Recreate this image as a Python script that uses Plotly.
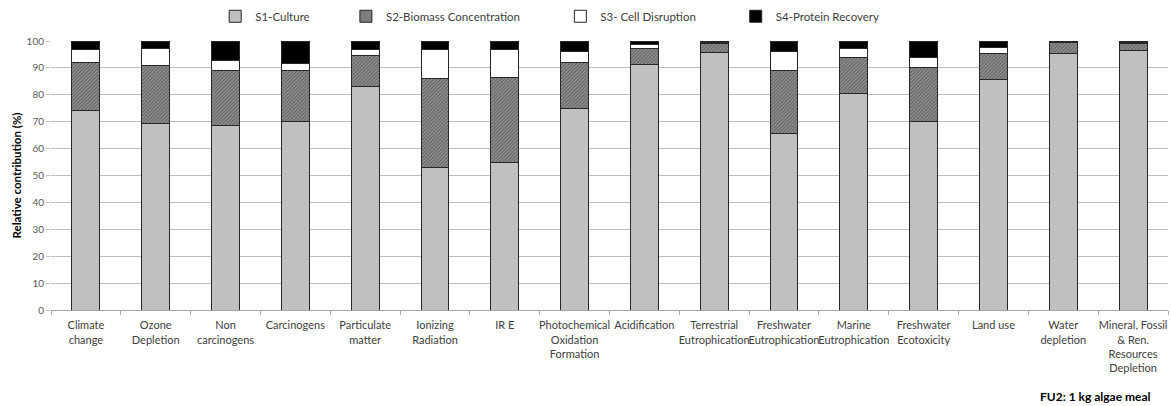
import plotly.graph_objects as go

categories = [
    "Climate<br>change", "Ozone<br>Depletion", "Non<br>carcinogens", "Carcinogens",
    "Particulate<br>matter", "Ionizing<br>Radiation", "IR E",
    "Photochemical<br>Oxidation<br>Formation", "Acidification",
    "Terrestrial<br>Eutrophication", "Freshwater<br>Eutrophication",
    "Marine<br>Eutrophication", "Freshwater<br>Ecotoxicity", "Land use",
    "Water<br>depletion", "Mineral, Fossil<br>& Ren.<br>Resources<br>Depletion",
]

s1_culture = [74.0, 69.5, 68.5, 70.0, 83.0, 53.0, 55.0, 75.0, 91.2, 95.7, 65.7, 80.5, 70.0, 85.7, 95.5, 96.3]
s2_biomass = [18.0, 21.5, 20.5, 19.0, 11.5, 33.0, 31.5, 17.0, 5.9, 3.5, 23.5, 13.2, 20.0, 9.7, 3.8, 2.8]
s3_disruption = [5.0, 6.2, 3.8, 2.5, 2.5, 11.0, 10.5, 4.0, 1.7, 0.3, 6.8, 3.6, 3.7, 2.2, 0.6, 0.3]
s4_recovery = [3.0, 2.8, 7.2, 8.5, 3.0, 3.0, 3.0, 4.0, 1.2, 0.5, 4.0, 2.7, 6.3, 2.4, 0.1, 0.6]

series_names = ["S1-Culture", "S2-Biomass Concentration", "S3- Cell Disruption", "S4-Protein Recovery"]
y_ticks = [0, 10, 20, 30, 40, 50, 60, 70, 80, 90, 100]

FONT = "Lato, Liberation Sans, Arial, sans-serif"
outline = dict(color="#262626", width=1)

fig = go.Figure()
fig.add_trace(go.Bar(x=categories, y=s1_culture, name=series_names[0], showlegend=True,
                     marker=dict(color="#c0c0c0", line=outline), legend="legend"))
fig.add_trace(go.Bar(x=categories, y=s2_biomass, name=series_names[1], showlegend=True,
                     marker=dict(color="#7a7a7a", line=outline,
                                 pattern=dict(shape="/", size=2.5, solidity=0.5,
                                              fgcolor="#262626", bgcolor="#9a9a9a")),
                     legend="legend2"))
fig.add_trace(go.Bar(x=categories, y=s3_disruption, name=series_names[2], showlegend=True,
                     marker=dict(color="#ffffff", line=outline), legend="legend3"))
fig.add_trace(go.Bar(x=categories, y=s4_recovery, name=series_names[3], showlegend=True,
                     marker=dict(color="#000000", line=outline), legend="legend4"))

legend_common = dict(orientation="h", yanchor="middle", y=1.092, xanchor="left",
                     font=dict(family=FONT, size=11.5, color="#404040"),
                     bgcolor="rgba(0,0,0,0)", borderwidth=0, itemwidth=30,
                     tracegroupgap=0, visible=True)

fig.update_layout(
    width=1171, height=406,
    margin=dict(l=51, r=3, t=41, b=96, autoexpand=False),
    showlegend=True,
    barmode="stack", bargap=0.6,
    plot_bgcolor="white", paper_bgcolor="white",
    font=dict(family=FONT, size=10.5, color="#404040"),
    legend=dict(x=0.147, **legend_common),
    legend2=dict(x=0.264, **legend_common),
    legend3=dict(x=0.456, **legend_common),
    legend4=dict(x=0.613, **legend_common),
    xaxis=dict(
        type="category", showline=True, linecolor="#a6a6a6", linewidth=1,
        ticks="outside", tickson="boundaries", ticklen=4, tickcolor="#a6a6a6",
        showgrid=False, tickangle=0, automargin=False, ticklabelstandoff=5,
        tickfont=dict(family=FONT, size=11, color="#404040"),
    ),
    yaxis=dict(
        range=[0, 100], tickvals=y_ticks, showgrid=True, gridcolor="#bfbfbf",
        gridwidth=1, zeroline=False, showline=False, ticks="outside", ticklen=4,
        tickcolor="#bfbfbf", tickfont=dict(family=FONT, size=10, color="#595959"),
        automargin=False,
        title=dict(text="<b>Relative contribution (%)</b>", standoff=2,
                   font=dict(family=FONT, size=11.5, color="#000000")),
    ),
    annotations=[dict(
        text="<b>FU2: 1 kg algae meal</b>", xref="paper", yref="paper",
        x=0.9866, y=-0.323, xanchor="right", yanchor="middle", showarrow=False,
        font=dict(family=FONT, size=12, color="#000000"),
    )],
)

fig.write_html(
    "out.html",
    config={"displayModeBar": False},
    post_script="document.body.style.margin='0';document.body.style.overflow='hidden';",
)
